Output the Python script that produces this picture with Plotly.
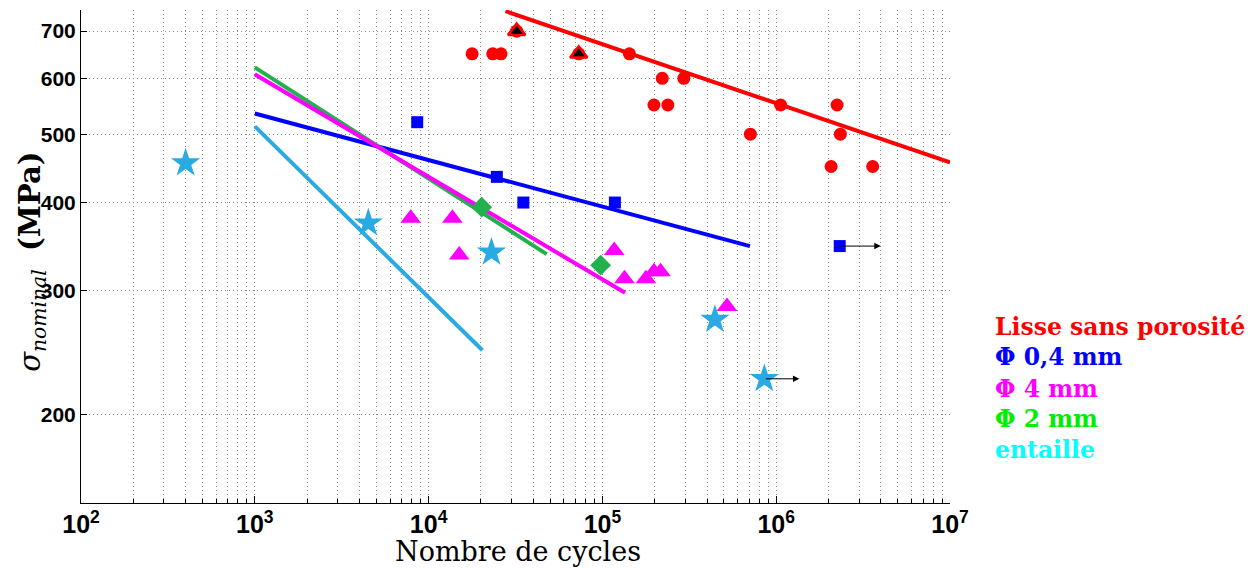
import numpy as np
import plotly.graph_objects as go

# ---------------- data ----------------
red_N = [17800, 23400, 26100, 32100, 73100, 143000, 221000, 294000, 198000, 238000,
         1060000, 2240000, 710000, 2340000, 2070000, 3590000]
red_S = [650, 650, 650, 700, 650, 650, 600, 600, 550, 550, 550, 550, 500, 500, 450, 450]
red_tri_N = [32100, 73100]
red_tri_S = [700, 650]
red_line_N = [27700, 1e7]
red_line_S = [747, 456]

blue_N = [8600, 24700, 35100, 118000, 2320000]
blue_S = [520, 435, 400, 400, 347]
blue_line_N = [1000, 706000]
blue_line_S = [535, 347]
blue_runout_N = [2320000, 4000000]
blue_runout_S = [347, 347]

mag_N = [7890, 13700, 15000, 117000, 134000, 178000, 198000, 216000, 521000]
mag_S = [380, 380, 337, 342, 312, 312, 319, 319, 285]
mag_line_N = [1000, 135000]
mag_line_S = [608, 298]

green_N = [20200, 97700]
green_S = [394, 326]
green_line_N = [1000, 47800]
green_line_S = [622, 338]

cyan_N = [400, 4500, 23000, 444000, 855000]
cyan_S = [455, 374, 340, 273, 225]
cyan_line_N = [1000, 20400]
cyan_line_S = [513, 247]
cyan_runout_N = [855000, 1360000]
cyan_runout_S = [225, 225]

legend_labels = ["Lisse sans porosité", "Φ 0,4 mm", "Φ 4 mm", "Φ 2 mm", "entaille"]
legend_colors = ["#FF0000", "#0000FF", "#FF00FF", "#00EE00", "#00FFFF"]

y_ticks = [200, 300, 400, 500, 600, 700]

RED = "#FF0000"
BLUE = "#0000FF"
MAG = "#FF00FF"
GREEN = "#22B14C"
CYAN = "#2AAAE2"

fig = go.Figure()

# fitted lines
for N, S, c in [(cyan_line_N, cyan_line_S, CYAN),
                (blue_line_N, blue_line_S, BLUE),
                (green_line_N, green_line_S, GREEN),
                (mag_line_N, mag_line_S, MAG),
                (red_line_N, red_line_S, RED)]:
    fig.add_trace(go.Scatter(x=N, y=S, mode="lines", line=dict(color=c, width=4),
                             showlegend=False, hoverinfo="skip"))

# markers
fig.add_trace(go.Scatter(x=green_N, y=green_S, mode="markers",
                         marker=dict(symbol="diamond", size=16, color=GREEN), showlegend=False))
fig.add_trace(go.Scatter(x=red_N, y=red_S, mode="markers",
                         marker=dict(symbol="circle", size=13, color=RED), showlegend=False))
fig.add_trace(go.Scatter(x=red_tri_N, y=red_tri_S, mode="markers",
                         marker=dict(symbol="triangle-up", size=15, color="black",
                                     line=dict(color=RED, width=2.5)), showlegend=False))
fig.add_trace(go.Scatter(x=blue_N, y=blue_S, mode="markers",
                         marker=dict(symbol="square", size=12, color=BLUE), showlegend=False))
fig.add_trace(go.Scatter(x=mag_N, y=mag_S, mode="markers",
                         marker=dict(symbol="triangle-up", size=18, color=MAG), showlegend=False))
fig.add_trace(go.Scatter(x=cyan_N, y=cyan_S, mode="markers",
                         marker=dict(symbol="star", size=22, color=CYAN), showlegend=False))

annotations = []
# run-out arrows
for N, S in [(blue_runout_N, blue_runout_S), (cyan_runout_N, cyan_runout_S)]:
    annotations.append(dict(x=np.log10(N[1]), y=np.log10(S[1]), ax=np.log10(N[0]), ay=np.log10(S[0]),
                            xref="x", yref="y", axref="x", ayref="y", text="",
                            showarrow=True, arrowhead=2, arrowsize=1.3, arrowwidth=1,
                            arrowcolor="black", standoff=0, startstandoff=0))

# legend text
leg_y = [0.357, 0.296, 0.231, 0.170, 0.1075]
for lab, col, yy in zip(legend_labels, legend_colors, leg_y):
    annotations.append(dict(x=1.0495, y=yy, xref="paper", yref="paper", xanchor="left",
                            yanchor="middle", text="<b>" + lab + "</b>", showarrow=False,
                            font=dict(family="DejaVu Serif", size=23.5, color=col)))

# axis titles
annotations.append(dict(x=0.503, y=-0.098, xref="paper", yref="paper", xanchor="center",
                        yanchor="middle", text="Nombre de cycles", showarrow=False,
                        font=dict(family="DejaVu Serif", size=27, color="black")))
annotations.append(dict(x=-0.056, y=0.49, xref="paper", yref="paper", xanchor="center",
                        yanchor="middle", textangle=-90,
                        text="<i>σ</i><sub><i>nominal</i></sub>  <b>(MPa)</b>", showarrow=False,
                        font=dict(family="DejaVu Serif", size=29, color="black")))

GRIDC = "#8c8c8c"
GRIDDASH = "1px,3px"
grid = dict(showgrid=True, gridcolor=GRIDC, griddash=GRIDDASH, gridwidth=1)

fig.update_layout(
    width=1246, height=560,
    margin=dict(l=73, r=304, t=2, b=65),
    paper_bgcolor="white", plot_bgcolor="white",
    annotations=annotations,
    xaxis=dict(type="log", range=[2, 7], dtick=1, exponentformat="power", showexponent="all",
               ticks="inside", ticklen=7, tickcolor="black", showline=True, linecolor="black",
               linewidth=1, zeroline=False,
               tickfont=dict(family="Liberation Sans", size=20, color="black", weight="bold"),
               minor=dict(ticks="inside", ticklen=4, tickcolor="black", showgrid=True,
                          gridcolor=GRIDC, griddash=GRIDDASH, gridwidth=1),
               **grid),
    yaxis=dict(type="log", range=[np.log10(150), np.log10(750)], tickmode="array",
               tickvals=y_ticks, ticktext=[str(v) for v in y_ticks],
               ticks="inside", ticklen=6, tickcolor="black", showline=True, linecolor="black",
               linewidth=1, zeroline=False,
               tickfont=dict(family="Liberation Sans", size=21, color="black", weight="bold"),
               **grid),
)

fig.write_html("out.html")
